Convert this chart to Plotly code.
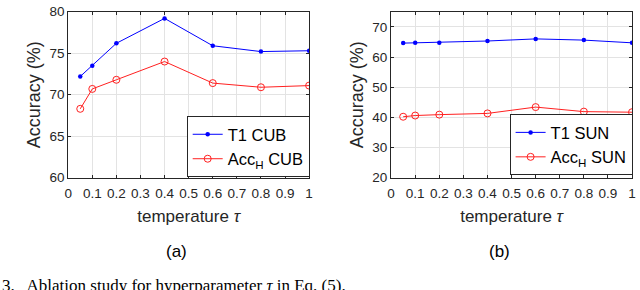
import plotly.graph_objects as go

tau = [0.05, 0.1, 0.2, 0.4, 0.6, 0.8, 1.0]
cub_t1 = [72.2, 73.5, 76.2, 79.2, 75.9, 75.2, 75.3]
cub_acch = [68.3, 70.7, 71.8, 74.0, 71.4, 70.9, 71.1]
sun_t1 = [64.6, 64.7, 64.7, 65.3, 66.0, 65.6, 64.7]
sun_acch = [40.2, 40.6, 40.9, 41.3, 43.4, 41.9, 41.7]

xticks = [0, 0.1, 0.2, 0.3, 0.4, 0.5, 0.6, 0.7, 0.8, 0.9, 1]
xticklabels = ["0", "0.1", "0.2", "0.3", "0.4", "0.5", "0.6", "0.7", "0.8", "0.9", "1"]
cub_yticks = [60, 65, 70, 75, 80]
sun_yticks = [20, 30, 40, 50, 60, 70]

W, H = 640, 290
FONT = "Liberation Sans, Arial, sans-serif"
AX = "#262626"
BLUE = "#0000ff"
RED = "#ff2020"

fig = go.Figure()
fig.add_trace(go.Scatter(x=tau, y=cub_t1, mode="lines+markers", name="T1 CUB",
                         line=dict(color=BLUE, width=1), marker=dict(symbol="circle", size=4.5, color=BLUE),
                         xaxis="x", yaxis="y", legend="legend"))
fig.add_trace(go.Scatter(x=tau, y=cub_acch, mode="lines+markers", name="Acc<sub>H</sub> CUB",
                         line=dict(color=RED, width=1),
                         marker=dict(symbol="circle-open", size=7, color=RED, line=dict(width=1)),
                         xaxis="x", yaxis="y", legend="legend"))
fig.add_trace(go.Scatter(x=tau, y=sun_t1, mode="lines+markers", name="T1 SUN",
                         line=dict(color=BLUE, width=1), marker=dict(symbol="circle", size=4.5, color=BLUE),
                         xaxis="x2", yaxis="y2", legend="legend2"))
fig.add_trace(go.Scatter(x=tau, y=sun_acch, mode="lines+markers", name="Acc<sub>H</sub> SUN",
                         line=dict(color=RED, width=1),
                         marker=dict(symbol="circle-open", size=7, color=RED, line=dict(width=1)),
                         xaxis="x2", yaxis="y2", legend="legend2"))

ydom = [(H - 180) / H, (H - 5) / H]
common_x = dict(range=[-0.0001, 1.0001], tickvals=xticks, ticktext=xticklabels, showgrid=True,
                gridcolor="#e3e3e3", gridwidth=1, zeroline=False, showline=True, linecolor=AX,
                linewidth=1, mirror="ticks", ticks="inside", ticklen=3, tickcolor=AX,
                tickfont=dict(family=FONT, size=13.5, color=AX), ticklabelstandoff=3,
                title=dict(text="temperature <i>τ</i>", font=dict(family=FONT, size=17, color=AX), standoff=10))
common_y = dict(showgrid=True, gridcolor="#e3e3e3", gridwidth=1, zeroline=False, showline=True,
                linecolor=AX, linewidth=1, mirror="ticks", ticks="inside", ticklen=3, tickcolor=AX,
                tickfont=dict(family=FONT, size=13.5, color=AX), ticklabeloverflow="allow",
                title=dict(text="Accuracy (%)", font=dict(family=FONT, size=18, color=AX), standoff=4))

fig.update_layout(
    width=W, height=H, margin=dict(l=0, r=0, t=0, b=0),
    paper_bgcolor="white", plot_bgcolor="white",
    xaxis=dict(domain=[65 / W, 309 / W], anchor="y", **common_x),
    yaxis=dict(domain=ydom, anchor="x", range=[59.999, 80.001], tickvals=cub_yticks, **common_y),
    xaxis2=dict(domain=[392 / W, 636 / W], anchor="y2", **common_x),
    yaxis2=dict(domain=ydom, anchor="x2", range=[20, 75], tickvals=sun_yticks, **common_y),
    legend=dict(x=185 / W, y=(H - 115) / H, xanchor="left", yanchor="top",
                bgcolor="white", bordercolor=AX, borderwidth=1, itemwidth=30,
                font=dict(family=FONT, size=16.5, color="black"), tracegroupgap=0),
    legend2=dict(x=512 / W, y=(H - 113) / H, xanchor="left", yanchor="top",
                 bgcolor="white", bordercolor=AX, borderwidth=1, itemwidth=30,
                 font=dict(family=FONT, size=16.5, color="black"), tracegroupgap=0),
    showlegend=True,
    annotations=[
        dict(text="(a)", x=175 / W, y=(H - 258) / H, xref="paper", yref="paper",
             showarrow=False, font=dict(family=FONT, size=17, color="black"), xanchor="center", yanchor="middle"),
        dict(text="(b)", x=502 / W, y=(H - 258) / H, xref="paper", yref="paper",
             showarrow=False, font=dict(family=FONT, size=17, color="black"), xanchor="center", yanchor="middle"),
        dict(text="3.   Ablation study for hyperparameter <i>τ</i> in Eq. (5).", x=-4 / W, y=(H - 282) / H,
             xref="paper", yref="paper", showarrow=False, xanchor="left", yanchor="top",
             font=dict(family="Liberation Serif, Times New Roman, serif", size=17, color="black")),
    ],
)

fig.write_html("out.html", config={"displayModeBar": False},
               post_script="document.body.style.margin='0';document.body.style.overflow='hidden';")
